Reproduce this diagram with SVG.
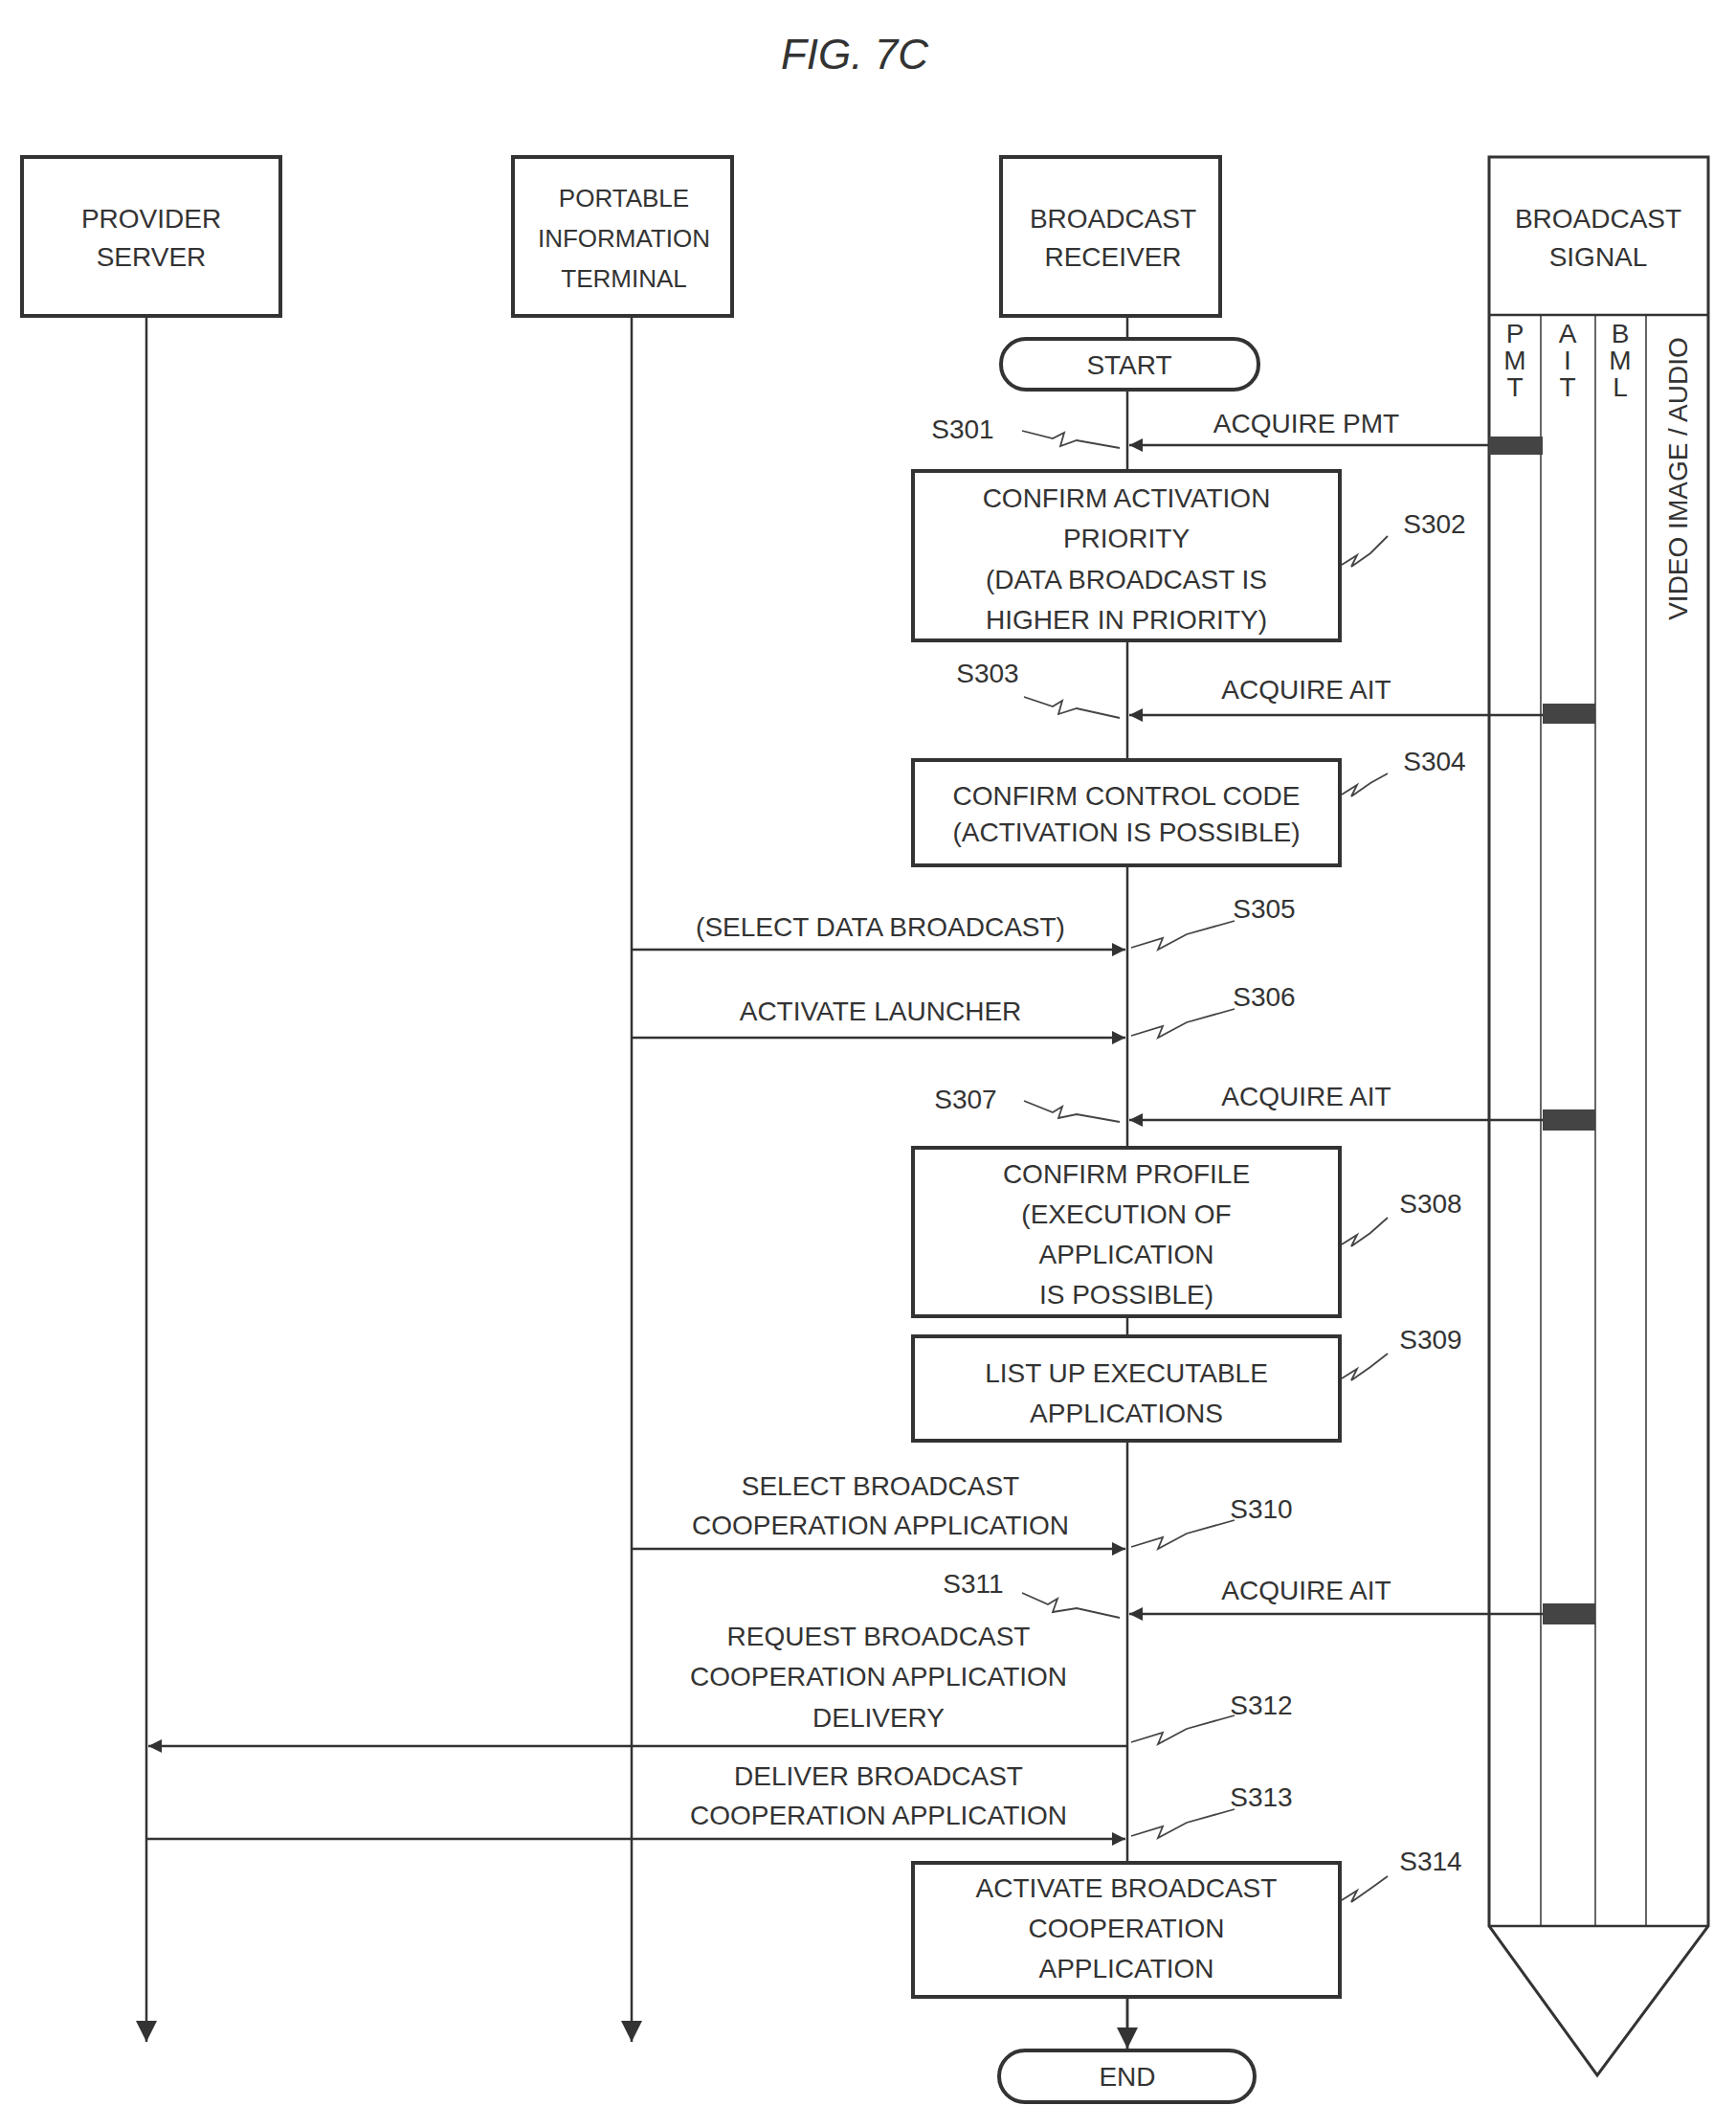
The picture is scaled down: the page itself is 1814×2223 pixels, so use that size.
<svg xmlns="http://www.w3.org/2000/svg" width="1814" height="2223" viewBox="0 0 1814 2223">
<defs>
<marker id="ah" viewBox="0 0 10 10" refX="10" refY="5" markerWidth="14" markerHeight="14" markerUnits="userSpaceOnUse" orient="auto"><path d="M0,0 L10,5 L0,10 Z" fill="#333"/></marker>
<marker id="ahd" viewBox="0 0 10 10" refX="10" refY="5" markerWidth="22" markerHeight="22" markerUnits="userSpaceOnUse" orient="auto"><path d="M0,0 L10,5 L0,10 Z" fill="#333"/></marker>
</defs>
<style>
text{font-family:"Liberation Sans",Arial,sans-serif;font-size:28px;fill:#333;text-anchor:middle}
.box{fill:#fff;stroke:#333;stroke-width:4}
.ln{stroke:#333;stroke-width:2.5;fill:none}
.sq{stroke:#444;stroke-width:1.8;fill:none}
.blk{fill:#444}
</style>
<rect width="1814" height="2223" fill="#fff"/>
<text x="893" y="72" style="font-size:44px;font-style:italic">FIG.  7C</text>

<g id="lifelines">
<line class="ln" x1="153" y1="330" x2="153" y2="2133" marker-end="url(#ahd)"/>
<line class="ln" x1="660" y1="330" x2="660" y2="2133" marker-end="url(#ahd)"/>
<line class="ln" x1="1178" y1="330" x2="1178" y2="2140"/>
</g>

<g id="provider"><rect class="box" x="23" y="164" width="270" height="166"/><text x="158" y="238">PROVIDER</text><text x="158" y="278">SERVER</text></g>
<g id="terminal"><rect class="box" x="536" y="164" width="229" height="166"/><text x="652" y="216" style="font-size:26px">PORTABLE</text><text x="652" y="258" style="font-size:26px">INFORMATION</text><text x="652" y="300" style="font-size:26px">TERMINAL</text></g>
<g id="receiver"><rect class="box" x="1046" y="164" width="229" height="166"/><text x="1163" y="238">BROADCAST</text><text x="1163" y="278">RECEIVER</text></g>

<g id="signal">
<path class="box" d="M1556,164 H1785 V2012 L1669,2168 L1556,2012 Z" style="stroke-width:3"/>
<line class="ln" x1="1556" y1="329" x2="1785" y2="329"/>
<line class="ln" x1="1556" y1="2012" x2="1785" y2="2012"/>
<line class="ln" x1="1610" y1="329" x2="1610" y2="2012" style="stroke-width:1.5"/>
<line class="ln" x1="1667" y1="329" x2="1667" y2="2012" style="stroke-width:1.5"/>
<line class="ln" x1="1720" y1="329" x2="1720" y2="2012" style="stroke-width:1.5"/>
<text x="1670" y="238">BROADCAST</text><text x="1670" y="278">SIGNAL</text>
<text x="1583" y="358">P</text><text x="1583" y="386">M</text><text x="1583" y="414">T</text>
<text x="1638" y="358">A</text><text x="1638" y="386">I</text><text x="1638" y="414">T</text>
<text x="1693" y="358">B</text><text x="1693" y="386">M</text><text x="1693" y="414">L</text>
<text x="0" y="0" transform="translate(1763,500) rotate(-90)">VIDEO IMAGE / AUDIO</text>
<rect class="blk" x="1556" y="456" width="56" height="19"/>
<rect class="blk" x="1612" y="735" width="55" height="21"/>
<rect class="blk" x="1612" y="1159" width="55" height="22"/>
<rect class="blk" x="1612" y="1675" width="55" height="22"/>
</g>

<g id="start"><rect class="box" x="1046" y="354" width="269" height="53" rx="26"/><text x="1180" y="391">START</text></g>
<g id="s302"><rect class="box" x="954" y="492" width="446" height="177"/><text x="1177" y="530">CONFIRM ACTIVATION</text><text x="1177" y="572">PRIORITY</text><text x="1177" y="615">(DATA BROADCAST IS</text><text x="1177" y="657">HIGHER IN PRIORITY)</text></g>
<g id="s304"><rect class="box" x="954" y="794" width="446" height="110"/><text x="1177" y="841">CONFIRM CONTROL CODE</text><text x="1177" y="879">(ACTIVATION IS POSSIBLE)</text></g>
<g id="s308"><rect class="box" x="954" y="1199" width="446" height="176"/><text x="1177" y="1236">CONFIRM PROFILE</text><text x="1177" y="1278">(EXECUTION OF</text><text x="1177" y="1320">APPLICATION</text><text x="1177" y="1362">IS POSSIBLE)</text></g>
<g id="s309"><rect class="box" x="954" y="1396" width="446" height="109"/><text x="1177" y="1444">LIST UP EXECUTABLE</text><text x="1177" y="1486">APPLICATIONS</text></g>
<g id="s314"><rect class="box" x="954" y="1946" width="446" height="140"/><text x="1177" y="1982">ACTIVATE BROADCAST</text><text x="1177" y="2024">COOPERATION</text><text x="1177" y="2066">APPLICATION</text></g>
<g id="end"><rect class="box" x="1044" y="2142" width="267" height="54" rx="27"/><text x="1178" y="2179">END</text></g>

<g id="connectors">
<line class="ln" x1="1178" y1="2086" x2="1178" y2="2140" marker-end="url(#ahd)"/>
<line class="ln" x1="1556" y1="465" x2="1180" y2="465" marker-end="url(#ah)"/>
<line class="ln" x1="1612" y1="747" x2="1180" y2="747" marker-end="url(#ah)"/>
<line class="ln" x1="660" y1="992" x2="1176" y2="992" marker-end="url(#ah)"/>
<line class="ln" x1="660" y1="1084" x2="1176" y2="1084" marker-end="url(#ah)"/>
<line class="ln" x1="1612" y1="1170" x2="1180" y2="1170" marker-end="url(#ah)"/>
<line class="ln" x1="660" y1="1618" x2="1176" y2="1618" marker-end="url(#ah)"/>
<line class="ln" x1="1612" y1="1686" x2="1180" y2="1686" marker-end="url(#ah)"/>
<line class="ln" x1="1178" y1="1824" x2="155" y2="1824" marker-end="url(#ah)"/>
<line class="ln" x1="153" y1="1921" x2="1176" y2="1921" marker-end="url(#ah)"/>
<text x="1365" y="452">ACQUIRE PMT</text>
<text x="1365" y="730">ACQUIRE AIT</text>
<text x="920" y="978">(SELECT DATA BROADCAST)</text>
<text x="920" y="1066">ACTIVATE LAUNCHER</text>
<text x="1365" y="1155">ACQUIRE AIT</text>
<text x="920" y="1562">SELECT BROADCAST</text>
<text x="920" y="1603">COOPERATION APPLICATION</text>
<text x="1365" y="1671">ACQUIRE AIT</text>
<text x="918" y="1719">REQUEST BROADCAST</text>
<text x="918" y="1761">COOPERATION APPLICATION</text>
<text x="918" y="1804">DELIVERY</text>
<text x="918" y="1865">DELIVER BROADCAST</text>
<text x="918" y="1906">COOPERATION APPLICATION</text>
<path class="sq" d="M1068,450 L1100,458 L1112,452 L1108,466 L1125,460 L1170,468"/>
<path class="sq" d="M1402,590 L1418,580 L1412,592 L1432,578 L1450,560"/>
<path class="sq" d="M1070,728 L1100,738 L1110,732 L1106,746 L1125,740 L1170,750"/>
<path class="sq" d="M1402,830 L1418,820 L1412,832 L1432,818 L1450,808"/>
<path class="sq" d="M1182,990 L1215,980 L1210,992 L1240,976 L1290,962"/>
<path class="sq" d="M1182,1082 L1215,1072 L1210,1084 L1240,1068 L1290,1054"/>
<path class="sq" d="M1070,1150 L1100,1162 L1110,1156 L1106,1168 L1125,1164 L1170,1172"/>
<path class="sq" d="M1402,1300 L1418,1290 L1412,1302 L1432,1288 L1450,1272"/>
<path class="sq" d="M1402,1440 L1418,1430 L1412,1442 L1432,1428 L1450,1414"/>
<path class="sq" d="M1182,1616 L1215,1606 L1210,1618 L1240,1602 L1290,1588"/>
<path class="sq" d="M1068,1664 L1095,1676 L1105,1670 L1100,1684 L1125,1680 L1170,1690"/>
<path class="sq" d="M1182,1820 L1215,1810 L1210,1822 L1240,1806 L1290,1792"/>
<path class="sq" d="M1182,1918 L1215,1908 L1210,1920 L1240,1904 L1290,1890"/>
<path class="sq" d="M1402,1985 L1418,1975 L1412,1987 L1432,1973 L1450,1960"/>
</g>
<g id="steplabels">
<text x="1006" y="458">S301</text>
<text x="1499" y="557">S302</text>
<text x="1032" y="713">S303</text>
<text x="1499" y="805">S304</text>
<text x="1321" y="959">S305</text>
<text x="1321" y="1051">S306</text>
<text x="1009" y="1158">S307</text>
<text x="1495" y="1267">S308</text>
<text x="1495" y="1409">S309</text>
<text x="1318" y="1586">S310</text>
<text x="1017" y="1664">S311</text>
<text x="1318" y="1791">S312</text>
<text x="1318" y="1887">S313</text>
<text x="1495" y="1954">S314</text>
</g>
</svg>
